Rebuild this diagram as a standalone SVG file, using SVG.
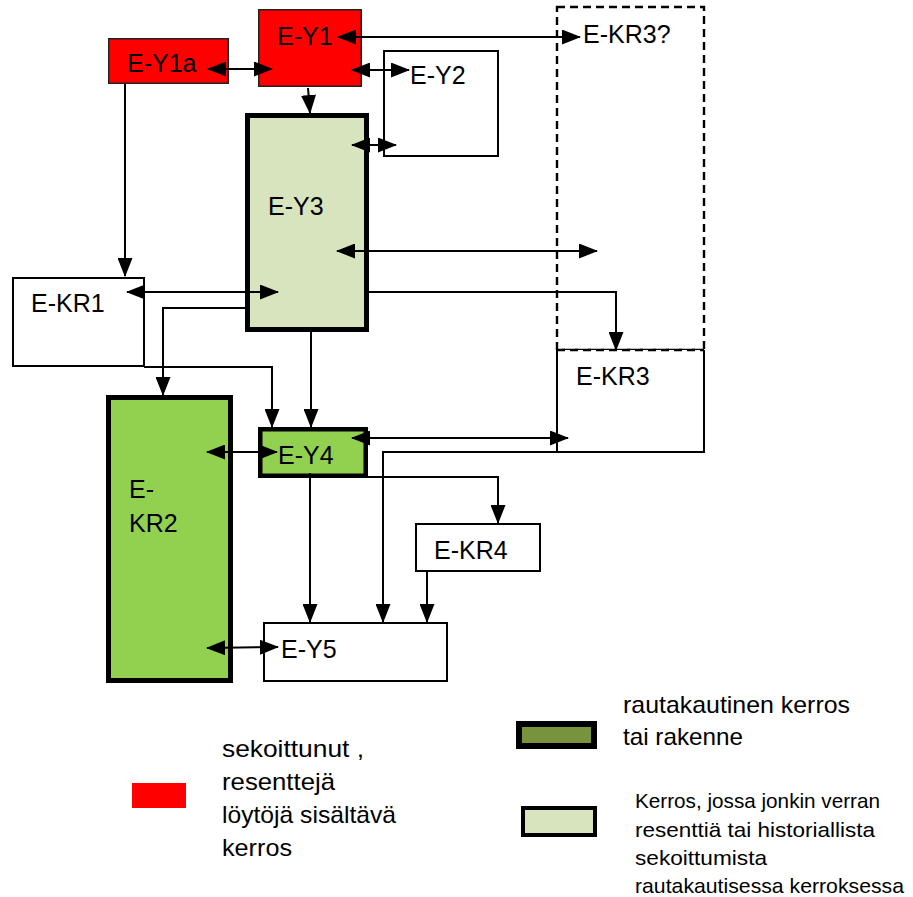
<svg xmlns="http://www.w3.org/2000/svg" width="913" height="897" viewBox="0 0 913 897">
<style>
  .lbl { font-family: "Liberation Sans", Arial, sans-serif; font-size: 25px; fill: #000; }
  .leg { font-family: "Liberation Sans Narrow", "Liberation Sans", sans-serif; fill: #000; }
  .box { fill: #fff; stroke: #000; stroke-width: 2; }
  .red { fill: #ff0000; stroke: #222; stroke-width: 1.5; }
  .c { fill: none; stroke: #000; stroke-width: 2; }
  .a { marker-end: url(#ah); }
  .b { marker-start: url(#ah); marker-end: url(#ah); }
</style>
<defs>
  <marker id="ah" markerUnits="userSpaceOnUse" markerWidth="19" markerHeight="15" refX="18" refY="7.5" orient="auto-start-reverse" viewBox="0 0 19 15">
    <path d="M0,0 L19,7.5 L0,15 z" fill="#000"/>
  </marker>
</defs>
<rect width="913" height="897" fill="#fff"/>

<g id="E-KR3q">
  <rect x="557" y="7" width="147" height="343" fill="none" stroke="#000" stroke-width="2.4" stroke-dasharray="8,5"/>
  <text class="lbl" x="583" y="43">E-KR3?</text>
</g>
<g id="E-KR3">
  <path d="M557,350 V452 H704 V350" fill="#fff" stroke="#000" stroke-width="2"/>
  <path d="M557,350 H704" fill="none" stroke="#000" stroke-width="2.4" stroke-dasharray="8,5"/>
  <text class="lbl" x="576" y="385">E-KR3</text>
</g>
<g id="E-Y1a">
  <rect class="red" x="108.75" y="38.75" width="119.5" height="44.5"/>
  <text class="lbl" x="127" y="72">E-Y1a</text>
</g>
<g id="E-Y1">
  <rect class="red" x="258.75" y="9.75" width="102.5" height="76.5"/>
  <text class="lbl" x="277" y="45">E-Y1</text>
</g>
<g id="E-Y2">
  <rect class="box" x="384" y="51" width="114" height="105"/>
  <text class="lbl" x="410" y="84">E-Y2</text>
</g>
<g id="E-Y3">
  <rect x="247.5" y="115.5" width="119" height="214" fill="#d7e4bd" stroke="#000" stroke-width="5"/>
  <text class="lbl" x="268" y="215">E-Y3</text>
</g>
<g id="E-KR1">
  <rect class="box" x="13" y="278" width="131" height="88"/>
  <text class="lbl" x="31" y="312">E-KR1</text>
</g>
<g id="E-KR2">
  <rect x="108.5" y="397.5" width="122" height="283" fill="#92d050" stroke="#000" stroke-width="5"/>
  <text class="lbl" x="129" y="498">E-</text>
  <text class="lbl" x="129" y="532">KR2</text>
</g>
<g id="E-Y4">
  <rect x="260.25" y="429.25" width="105.5" height="46.5" fill="#92d050" stroke="#000" stroke-width="4.5"/>
  <text class="lbl" x="278" y="464">E-Y4</text>
</g>
<g id="E-KR4">
  <rect class="box" x="416" y="524" width="124" height="47"/>
  <text class="lbl" x="434" y="559">E-KR4</text>
</g>
<g id="E-Y5">
  <rect class="box" x="264" y="623" width="183" height="58"/>
  <text class="lbl" x="281" y="658">E-Y5</text>
</g>

<g id="connectors">
  <path class="c b" d="M208,69 H272"/>
  <path class="c b" d="M352,70 H409"/>
  <path class="c b" d="M338,37 H580"/>
  <path class="c a" d="M308,88 L310,113"/>
  <path class="c b" d="M352,145 H396"/>
  <path class="c b" d="M337,251 H597"/>
  <path class="c a" d="M369,292 H616 V350"/>
  <path class="c a" d="M125,84 V276"/>
  <path class="c b" d="M127,292 H278"/>
  <path class="c a" d="M245,308 H163 V395"/>
  <path class="c a" d="M144,367 H272 V427"/>
  <path class="c a" d="M311,332 V427"/>
  <path class="c b" d="M207,452 H277"/>
  <path class="c b" d="M352,438 H568"/>
  <path class="c a" d="M557,452 H383 V622"/>
  <path class="c a" d="M368,477 H498 V523"/>
  <path class="c a" d="M427,572 V622"/>
  <path class="c a" d="M310,473 V622"/>
  <path class="c b" d="M207,648 L278,647"/>
</g>

<g id="legend">
  <rect x="132" y="783" width="54" height="25" fill="#ff0000"/>
  <text class="leg" font-size="24" x="222" y="757" textLength="142" lengthAdjust="spacingAndGlyphs">sekoittunut ,</text>
  <text class="leg" font-size="24" x="222" y="790" textLength="113" lengthAdjust="spacingAndGlyphs">resenttejä</text>
  <text class="leg" font-size="24" x="222" y="823" textLength="174" lengthAdjust="spacingAndGlyphs">löytöjä sisältävä</text>
  <text class="leg" font-size="24" x="222" y="856" textLength="70" lengthAdjust="spacingAndGlyphs">kerros</text>

  <rect x="519" y="724" width="75" height="22" fill="#77933c" stroke="#000" stroke-width="6"/>
  <text class="leg" font-size="24" x="623" y="713" textLength="227" lengthAdjust="spacingAndGlyphs">rautakautinen kerros</text>
  <text class="leg" font-size="24" x="623" y="745" textLength="120" lengthAdjust="spacingAndGlyphs">tai rakenne</text>

  <rect x="523" y="808" width="72" height="27" fill="#d7e4bd" stroke="#000" stroke-width="4"/>
  <text class="leg" font-size="21" x="635" y="808" textLength="245" lengthAdjust="spacingAndGlyphs">Kerros, jossa jonkin verran</text>
  <text class="leg" font-size="21" x="635" y="837" textLength="240" lengthAdjust="spacingAndGlyphs">resenttiä tai historiallista</text>
  <text class="leg" font-size="21" x="635" y="865" textLength="132" lengthAdjust="spacingAndGlyphs">sekoittumista</text>
  <text class="leg" font-size="21" x="635" y="893" textLength="269" lengthAdjust="spacingAndGlyphs">rautakautisessa kerroksessa</text>
</g>
</svg>
